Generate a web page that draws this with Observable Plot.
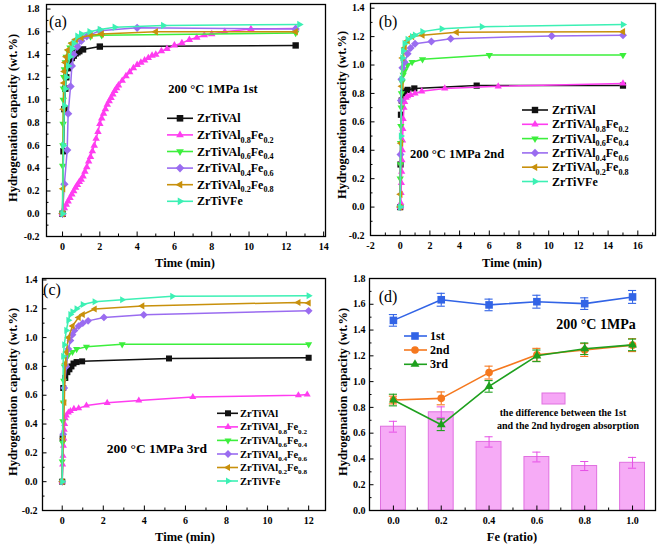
<!DOCTYPE html>
<html><head><meta charset="utf-8">
<script src="https://cdn.jsdelivr.net/npm/d3@7"></script>
<script src="https://cdn.jsdelivr.net/npm/@observablehq/plot@0.6"></script>
<style>
body{margin:0;background:#fff}
#fig{position:relative;width:661px;height:551px;overflow:hidden;background:#fff}
</style>
</head><body><div id="fig"></div>
<script>
// ================= DATA =================
const alloyNames = ["ZrTiVAl","ZrTiVAl0.8Fe0.2","ZrTiVAl0.6Fe0.4","ZrTiVAl0.4Fe0.6","ZrTiVAl0.2Fe0.8","ZrTiVFe"];

// Panel (a): 1st absorption, time (min) and capacity (wt.%)
const aTime0 = [0,0.05,0.1,0.15,0.2,0.3,0.4,0.5,0.6,0.7,0.8,0.9,1.1,2.0,12.5];
const aCap0  = [0,0.55,0.92,1.1,1.2,1.28,1.33,1.37,1.39,1.41,1.42,1.43,1.445,1.47,1.48];
const aTime1 = [0,0.1,0.2,0.3,0.4,0.5,0.6,0.7,0.8,0.9,1.0,1.1,1.2,1.3,1.4,1.5,1.6,1.7,1.8,1.9,2.0,2.1,2.2,2.3,2.4,2.5,2.6,2.7,2.8,2.9,3.0,3.2,3.4,3.6,3.8,4.0,4.2,4.4,4.6,4.8,5.0,5.3,5.6,6.0,6.4,6.8,7.2,7.6,8.0,8.7,10.1,12.5];
const aCap1  = [0,0.05,0.08,0.11,0.14,0.17,0.2,0.23,0.255,0.28,0.3,0.33,0.37,0.41,0.46,0.5,0.55,0.6,0.66,0.72,0.79,0.84,0.88,0.92,0.96,0.99,1.02,1.05,1.08,1.105,1.13,1.17,1.21,1.245,1.28,1.31,1.33,1.35,1.37,1.39,1.40,1.43,1.45,1.48,1.50,1.53,1.55,1.57,1.58,1.60,1.625,1.63];
const aTime2 = [0,0.01,0.02,0.03,0.04,0.05,0.07,0.1,0.15,0.2,0.3,0.4,0.5,0.7,1.0,1.5,2.1,12.5];
const aCap2  = [0,0.42,0.6,0.79,1.0,1.1,1.2,1.27,1.33,1.38,1.43,1.46,1.49,1.52,1.54,1.56,1.57,1.59];
const aTime3 = [0,0.1,0.25,0.3,0.43,0.5,0.6,0.8,1.0,1.3,2.0,4.0,12.5];
const aCap3  = [0,0.26,0.56,0.88,1.12,1.3,1.4,1.47,1.52,1.56,1.61,1.635,1.625];
const aTime4 = [0,0.03,0.05,0.08,0.1,0.15,0.2,0.3,0.5,0.7,1.0,1.5,2.1,5.0,12.5];
const aCap4  = [0,0.22,0.92,1.15,1.25,1.33,1.38,1.44,1.5,1.53,1.55,1.57,1.58,1.6,1.6];
const aTime5 = [0,0.05,0.1,0.15,0.2,0.3,0.4,0.5,0.6,0.8,1.0,1.45,2.0,2.8,5.4,12.7];
const aCap5  = [0,0.6,0.95,1.1,1.2,1.3,1.38,1.45,1.5,1.56,1.58,1.6,1.62,1.64,1.655,1.665];

// Panel (b): 2nd absorption
const bTime0 = [0,0.02,0.05,0.1,0.2,0.3,0.5,0.95,5.15,15];
const bCap0  = [0,0.3,0.65,0.75,0.8,0.815,0.825,0.835,0.855,0.855];
const bTime1 = [0,0.04,0.06,0.08,0.1,0.12,0.14,0.16,0.18,0.2,0.25,0.3,0.4,0.5,0.7,1.0,1.45,3.0,6.6,15];
const bCap1  = [0,0.03,0.1,0.17,0.25,0.33,0.4,0.47,0.55,0.62,0.7,0.74,0.77,0.78,0.79,0.80,0.815,0.835,0.85,0.87];
const bTime2 = [0,0,0.01,0.02,0.04,0.06,0.08,0.12,0.2,0.3,0.5,0.8,1.5,6,15];
const bCap2  = [0,0.2,0.3,0.45,0.57,0.7,0.8,0.88,0.93,0.96,1.0,1.02,1.04,1.07,1.07];
const bTime3 = [0,0.02,0.05,0.08,0.15,0.3,0.5,0.7,1,2.1,3.4,10.2,15];
const bCap3  = [0,0.37,0.75,0.9,0.98,1.02,1.08,1.12,1.15,1.165,1.185,1.205,1.21];
const bTime4 = [0,0.01,0.05,0.1,0.15,0.3,0.5,0.8,1.5,3.8,15];
const bCap4  = [0,0.09,0.45,0.85,1.05,1.12,1.17,1.2,1.21,1.23,1.235];
const bTime5 = [0,0.05,0.1,0.15,0.2,0.3,0.5,0.8,1.0,1.5,2.8,5.5,15];
const bCap5  = [0,0.5,0.9,1.05,1.1,1.15,1.18,1.2,1.21,1.235,1.255,1.27,1.285];

// Panel (c): 3rd absorption
const cTime0 = [0,0.02,0.05,0.15,0.25,0.35,0.45,0.55,0.7,0.97,5.2,12];
const cCap0  = [0,0.3,0.65,0.72,0.76,0.78,0.8,0.82,0.83,0.835,0.855,0.86];
const cTime1 = [0,0.02,0.04,0.06,0.08,0.1,0.12,0.15,0.2,0.3,0.4,0.57,0.8,1.18,2.19,3.73,6.36,11.5,11.93];
const cCap1  = [0,0.12,0.18,0.25,0.3,0.36,0.4,0.44,0.46,0.48,0.49,0.505,0.51,0.528,0.547,0.563,0.588,0.6,0.605];
const cTime2 = [0,0,0.02,0.03,0.05,0.07,0.1,0.2,0.3,0.5,0.7,1.18,2.92,12];
const cCap2  = [0,0.14,0.27,0.42,0.55,0.7,0.8,0.86,0.88,0.9,0.92,0.937,0.953,0.953];
const cTime3 = [0,0.05,0.1,0.2,0.3,0.4,0.5,0.6,0.8,1.0,1.26,2.03,3.97,12];
const cCap3  = [0,0.33,0.65,0.8,0.92,0.98,1.02,1.05,1.08,1.1,1.116,1.14,1.158,1.186];
const cTime4 = [0,0.05,0.1,0.15,0.2,0.3,0.5,0.8,1.0,1.58,3.9,11.5,12];
const cCap4  = [0,0.3,0.55,0.82,0.9,1.0,1.08,1.14,1.16,1.198,1.22,1.244,1.24];
const cTime5 = [0,0.05,0.1,0.2,0.3,0.4,0.5,0.7,1.0,1.58,2.92,5.36,12];
const cCap5  = [0,0.87,0.95,1.05,1.12,1.16,1.18,1.2,1.23,1.249,1.263,1.286,1.29];

// Panel (d): capacity vs Fe ratio
const feRatio = [0,0.2,0.4,0.6,0.8,1.0];
const cap1st = [1.475,1.635,1.595,1.62,1.605,1.657];
const err1st = [0.045,0.05,0.045,0.05,0.045,0.05];
const cap2nd = [0.857,0.87,1.07,1.208,1.245,1.283];
const err2nd = [0.03,0.05,0.05,0.05,0.05,0.05];
const cap3rd = [0.857,0.665,0.963,1.2,1.255,1.285];
const err3rd = [0.045,0.045,0.045,0.045,0.045,0.045];
const capDiff = [0.65,0.762,0.532,0.415,0.345,0.37];
const errDiff = [0.042,0.042,0.04,0.038,0.035,0.042];
const cycleNames = ["1st","2nd","3rd"];

// Tick values
const aXTicks = [0,2,4,6,8,10,12,14], aXMinor = [1,3,5,7,9,11,13];
const aYTicks = [-0.2,0,0.2,0.4,0.6,0.8,1.0,1.2,1.4,1.6,1.8], aYMinor = [-0.1,0.1,0.3,0.5,0.7,0.9,1.1,1.3,1.5,1.7];
const bXTicks = [-2,0,2,4,6,8,10,12,14,16], bXMinor = [-1,1,3,5,7,9,11,13,15,17];
const bYTicks = [-0.2,0,0.2,0.4,0.6,0.8,1.0,1.2,1.4], bYMinor = [-0.1,0.1,0.3,0.5,0.7,0.9,1.1,1.3];
const cXTicks = [0,2,4,6,8,10,12], cXMinor = [1,3,5,7,9,11];
const cYTicks = [-0.2,0,0.2,0.4,0.6,0.8,1.0,1.2,1.4], cYMinor = [-0.1,0.1,0.3,0.5,0.7,0.9,1.1,1.3];
const dXTicks = [0,0.2,0.4,0.6,0.8,1.0], dXMinor = [0.1,0.3,0.5,0.7,0.9];
const dYTicks = [0,0.2,0.4,0.6,0.8,1.0,1.2,1.4,1.6,1.8], dYMinor = [0.1,0.3,0.5,0.7,0.9,1.1,1.3,1.5,1.7];

// ================= STYLES / SYMBOLS =================
const FONT = "'Liberation Serif','Times New Roman',serif";
const alloyColors = ["#111111","#ff3cf0","#3cef3c","#9a6cf0","#c8900c","#3cf0b4"];
const cycleColors = ["#3264e6","#f5781e","#1ea01e"];
const barFill = "#f6a6f6", barStroke = "#e070e0";

function triSym(angle){ return {draw(c,s){const r=Math.sqrt(s/Math.PI)*1.35; for(let i=0;i<3;i++){const a=angle+i*2*Math.PI/3; const x=r*Math.cos(a), y=r*Math.sin(a); if(i) c.lineTo(x,y); else c.moveTo(x,y);} c.closePath();}}; }
const symSquare = {draw(c,s){const r=Math.sqrt(s/Math.PI); c.moveTo(-r,-r); c.lineTo(r,-r); c.lineTo(r,r); c.lineTo(-r,r); c.closePath();}};
const symDiamond = {draw(c,s){const r=Math.sqrt(s/Math.PI)*1.3; c.moveTo(0,-r); c.lineTo(r,0); c.lineTo(0,r); c.lineTo(-r,0); c.closePath();}};
const symCircle = {draw(c,s){const r=Math.sqrt(s/Math.PI); c.moveTo(r,0); c.arc(0,0,r,0,2*Math.PI);}};
const symUp = triSym(-Math.PI/2), symDown = triSym(Math.PI/2), symLeft = triSym(Math.PI), symRight = triSym(0);
const alloySymbols = [symSquare, symUp, symDown, symDiamond, symLeft, symRight];
const cycleSymbols = [symSquare, symCircle, symUp];

const fig = document.getElementById("fig");

function seriesMarks(times, caps, r, sw){
  const marks = [];
  times.forEach((ts,i)=>{
    const rows = ts.map((t,j)=>({t, v: caps[i][j]}));
    marks.push(Plot.line(rows,{x:"t",y:"v",stroke:alloyColors[i],strokeWidth:sw}));
    marks.push(Plot.dot(rows,{x:"t",y:"v",symbol:alloySymbols[i],r,fill:alloyColors[i],stroke:"none"}));
  });
  return marks;
}

function makePanel(cfg){
  const {left,top,w,h,ml,mr,mt,mb,xd,yd,xt,xm,yt,ym,xf,yf,xpad,ypad,marks} = cfg;
  const fh = h-mt-mb, fw = w-ml-mr;
  const ky = (yd[1]-yd[0])/fh, kx = (xd[1]-xd[0])/fw;
  const tickMarks = [
    Plot.ruleX(xt,{x:d=>d,y1:yd[0],y2:yd[0]+4.5*ky,stroke:"#000",strokeWidth:1}),
    Plot.ruleX(xm,{x:d=>d,y1:yd[0],y2:yd[0]+2.5*ky,stroke:"#000",strokeWidth:1}),
    Plot.ruleY(yt,{y:d=>d,x1:xd[0],x2:xd[0]+4.5*kx,stroke:"#000",strokeWidth:1}),
    Plot.ruleY(ym,{y:d=>d,x1:xd[0],x2:xd[0]+2.5*kx,stroke:"#000",strokeWidth:1})
  ];
  const svg = Plot.plot({
    width:w,height:h,marginLeft:ml,marginRight:mr,marginTop:mt,marginBottom:mb,
    x:{domain:xd,ticks:xt,tickFormat:xf,tickSize:0,tickPadding:xpad,label:null},
    y:{domain:yd,ticks:yt,tickFormat:yf,tickSize:0,tickPadding:ypad,label:null},
    style:`position:absolute;left:${left}px;top:${top}px;font-family:${FONT};font-size:10px;font-weight:bold;background:none;color:#000;max-width:none;`,
    marks:[...marks,...tickMarks,Plot.frame({stroke:"#000",strokeWidth:1.3})]
  });
  fig.appendChild(svg);
}

const f1 = d=>d.toFixed(1), fi = d=>String(d);

// (a)
makePanel({left:0,top:0,w:330,h:275,ml:46,mr:5,mt:4,mb:39,xd:[-0.86,14.1],yd:[-0.2,1.84],
  xt:aXTicks,xm:aXMinor,yt:aYTicks,ym:aYMinor,xf:fi,yf:f1,xpad:6,ypad:7,
  marks:seriesMarks([aTime0,aTime1,aTime2,aTime3,aTime4,aTime5],[aCap0,aCap1,aCap2,aCap3,aCap4,aCap5],3.2,1.5)});
// (b)
makePanel({left:330,top:0,w:331,h:275,ml:40,mr:6,mt:3,mb:40,xd:[-2,17.19],yd:[-0.2,1.433],
  xt:bXTicks,xm:bXMinor,yt:bYTicks,ym:bYMinor,xf:fi,yf:f1,xpad:6,ypad:6,
  marks:seriesMarks([bTime0,bTime1,bTime2,bTime3,bTime4,bTime5],[bCap0,bCap1,bCap2,bCap3,bCap4,bCap5],3.1,1.5)});
// (c)
makePanel({left:0,top:267,w:330,h:284,ml:42,mr:5,mt:11,mb:41,xd:[-0.96,12.82],yd:[-0.2,1.41],
  xt:cXTicks,xm:cXMinor,yt:cYTicks,ym:cYMinor,xf:fi,yf:f1,xpad:6,ypad:5,
  marks:seriesMarks([cTime0,cTime1,cTime2,cTime3,cTime4,cTime5],[cCap0,cCap1,cCap2,cCap3,cCap4,cCap5],3.0,1.5)});
// (d)
(function(){
  const barRows = feRatio.map((f,i)=>({f, v:capDiff[i], e:errDiff[i]}));
  const marks = [
    Plot.rect(barRows,{x1:d=>d.f-0.052,x2:d=>d.f+0.052,y1:0,y2:"v",fill:barFill,fillOpacity:0.95,stroke:barStroke,strokeWidth:1}),
    Plot.ruleX(barRows,{x:"f",y1:d=>d.v-d.e,y2:d=>d.v+d.e,stroke:"#e650e6",strokeWidth:1}),
    Plot.ruleY(barRows,{y:d=>d.v+d.e,x1:d=>d.f-0.017,x2:d=>d.f+0.017,stroke:"#e650e6",strokeWidth:1}),
    Plot.ruleY(barRows,{y:d=>d.v-d.e,x1:d=>d.f-0.017,x2:d=>d.f+0.017,stroke:"#e650e6",strokeWidth:1})
  ];
  [[cap1st,err1st],[cap2nd,err2nd],[cap3rd,err3rd]].forEach(([cap,err],k)=>{
    const rows = feRatio.map((f,i)=>({f, v:cap[i], e:err[i]}));
    const col = cycleColors[k];
    marks.push(Plot.line(rows,{x:"f",y:"v",stroke:col,strokeWidth:1.6}));
    marks.push(Plot.ruleX(rows,{x:"f",y1:d=>d.v-d.e,y2:d=>d.v+d.e,stroke:col,strokeWidth:1.1}));
    marks.push(Plot.ruleY(rows,{y:d=>d.v+d.e,x1:d=>d.f-0.017,x2:d=>d.f+0.017,stroke:col,strokeWidth:1.1}));
    marks.push(Plot.ruleY(rows,{y:d=>d.v-d.e,x1:d=>d.f-0.017,x2:d=>d.f+0.017,stroke:col,strokeWidth:1.1}));
    marks.push(Plot.dot(rows,{x:"f",y:"v",symbol:cycleSymbols[k],r:3.8,fill:col,stroke:"none"}));
  });
  makePanel({left:330,top:267,w:331,h:284,ml:39,mr:6,mt:11,mb:41,xd:[-0.1,1.096],yd:[0,1.8],
    xt:dXTicks,xm:dXMinor,yt:dYTicks,ym:dYMinor,xf:f1,yf:f1,xpad:6,ypad:4,marks});
})();

// ================= OVERLAY TEXT / LEGENDS =================
const ov = d3.select(fig).append("svg").attr("width",661).attr("height",551)
  .style("position","absolute").style("left","0px").style("top","0px")
  .attr("font-family",FONT);

function richText(x, y, label, fs, anchor){
  const parts = label.split(/(\d\.\d)/);
  const t = ov.append("text").attr("x",x).attr("y",y+fs*0.34).attr("font-size",fs)
    .attr("font-weight","bold").attr("text-anchor",anchor||"start").attr("fill","#000");
  const sh = fs*0.3; let shifted=false;
  parts.forEach((p,i)=>{
    if(!p) return; const sub = i%2===1;
    const ts = t.append("tspan").text(p).attr("font-size", sub? fs*0.68 : fs);
    if(sub && !shifted){ts.attr("dy",sh); shifted=true;}
    else if(!sub && shifted){ts.attr("dy",-sh); shifted=false;}
  });
  return t;
}
function plainText(x,y,str,fs,weight,anchor){
  return ov.append("text").attr("x",x).attr("y",y+fs*0.34).attr("font-size",fs)
    .attr("font-weight",weight).attr("text-anchor",anchor||"middle").attr("fill","#000").text(str);
}
function yTitle(x,y,str){
  ov.append("text").attr("transform",`translate(${x},${y}) rotate(-90)`).attr("text-anchor","middle")
    .attr("dy","0.34em").attr("font-size",12.5).attr("font-weight","bold").text(str);
}
function legend(names, colors, symbols, rows, x1, x2, xm, xt, fs, r){
  names.forEach((n,i)=>{
    const y = rows[i];
    ov.append("line").attr("x1",x1).attr("x2",x2).attr("y1",y).attr("y2",y).attr("stroke",colors[i]).attr("stroke-width",1.6);
    ov.append("path").attr("d",d3.symbol(symbols[i], r*r*Math.PI)()).attr("transform",`translate(${xm},${y})`).attr("fill",colors[i]);
    richText(xt, y, n, fs);
  });
}

// axis titles
yTitle(13,118,"Hydrogenation capacity (wt.%)");
yTitle(342,115,"Hydrogenation capacity (wt.%)");
yTitle(13,392,"Hydrogenation capacity (wt.%)");
yTitle(343,392,"Hydrogenation capacity (wt.%)");
plainText(185,263,"Time (min)",12.5,"bold");
plainText(512,263,"Time (min)",12.5,"bold");
plainText(185,537,"Time (min)",12.5,"bold");
plainText(512,537,"Fe (ratio)",12.5,"bold");

// panel letters
plainText(58,22,"(a)",16,"normal");
plainText(388,22,"(b)",16,"normal");
plainText(52,290,"(c)",16,"normal");
plainText(388,297,"(d)",16,"normal");

// condition labels
plainText(213,89,"200 °C 1MPa 1st",12.5,"bold");
plainText(457,154,"200 °C 1MPa 2nd",12.5,"bold");
plainText(157,448,"200 °C 1MPa 3rd",13.5,"bold");
plainText(596,324,"200 °C 1MPa",14,"bold");

// legends
legend(alloyNames, alloyColors, alloySymbols, [118.3,134.9,151.5,168.1,184.7,201.3], 167,193,180,197,12,3.3);
legend(alloyNames, alloyColors, alloySymbols, [110,124.3,138.6,152.9,167.2,181.5], 522,548,535,552,12,3.2);
legend(alloyNames, alloyColors, alloySymbols, [413.3,426.9,440.4,454,467.5,481], 217,238,228,240,10.5,3.0);
legend(cycleNames, cycleColors, cycleSymbols, [336,350,364.3], 404,427,415,430,12,3.8);

// bar legend
ov.append("rect").attr("x",542).attr("y",393).attr("width",23).attr("height",11).attr("fill",barFill).attr("stroke",barStroke).attr("stroke-width",1);
plainText(563,412.3,"the difference between the 1st",10,"bold");
plainText(568,425.7,"and the 2nd hydrogen absorption",10,"bold");
</script>
</body></html>
